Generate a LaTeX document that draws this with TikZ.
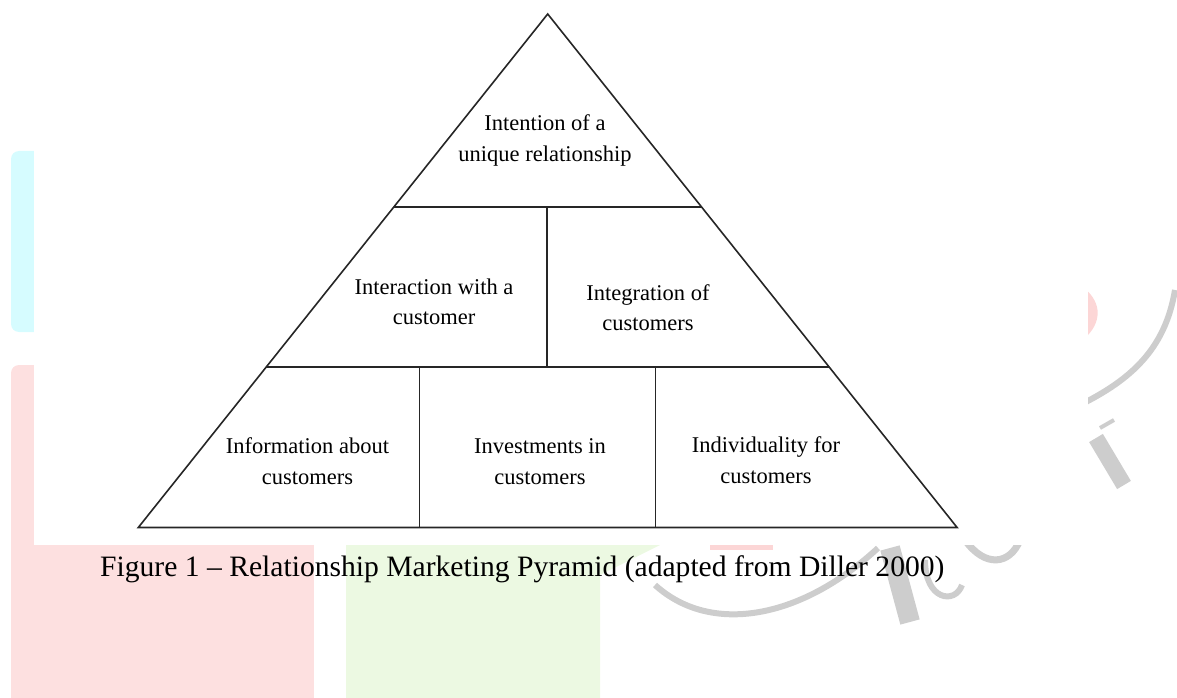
\documentclass[tikz,border=0pt]{standalone}
\usepackage{fontspec}
\setmainfont{Liberation Serif}
\usepackage{tikz}
\usetikzlibrary{calc}

\definecolor{wmcyan}{RGB}{214,252,255}
\definecolor{wmpink}{RGB}{253,224,224}
\definecolor{wmgreen}{RGB}{236,249,226}
\definecolor{wmgrey}{RGB}{205,205,205}
\definecolor{wmred}{RGB}{252,214,214}

\begin{document}
\begin{tikzpicture}[
      x=1bp, y=-1bp,
      tierline/.style={draw=black!85, line width=1.6bp},
      tier/.style={anchor=base, align=center, inner sep=0pt,
        font=\fontsize{22.5bp}{30.5bp}\selectfont},
      figcap/.style={anchor=base west, inner sep=0pt,
        font=\fontsize{29.6bp}{34bp}\selectfont}
      ]

      \path[use as bounding box] (0,0) rectangle (1177,698);

      % filigrane derriere la figure
      \fill[wmcyan, rounded corners=8bp] (11,151) rectangle (45,332);
      \fill[wmpink, rounded corners=8bp] (11,365) rectangle (45,560);
      \fill[wmpink] (11,545) rectangle (314,698);
      \fill[wmgreen] (346,545) -- (660,545) -- (600,575) -- (600,698) -- (346,698) -- cycle;
      \fill[wmred] (1080,285) .. controls (1102,300) and (1102,320) .. (1088,335) -- cycle;
      \fill[wmred] (710,545) rectangle (773,550);
      \draw[wmgrey, line width=6bp] (1175,290) .. controls (1165,350) and (1130,380) .. (1080,405);
      \draw[wmgrey, line width=16bp] (1096,438) -- (1124,485);
      \draw[wmgrey, line width=4bp] (1100,428) -- (1114,420);
      \draw[wmgrey, line width=6bp] (655,585) .. controls (710,635) and (800,620) .. (878,548);
      \draw[wmgrey, line width=20bp] (890,548) -- (910,622);
      \draw[wmgrey, line width=6bp] (925,560) .. controls (925,600) and (955,605) .. (962,585);
      \draw[wmgrey, line width=7bp] (965,540) .. controls (985,568) and (1010,565) .. (1020,540);
      \fill[white] (34,0) rectangle (1088,545);

      \coordinate (apex) at (547.7,14);
      \coordinate (bl) at (138.3,527.5);
      \coordinate (br) at (957.1,527.5);
      \draw[tierline, line join=miter] (apex) -- (bl) -- (br) -- cycle;

      \coordinate (t1l) at ($(apex)!0.3759!(bl)$);
      \coordinate (t1r) at ($(apex)!0.3759!(br)$);
      \coordinate (t2l) at ($(apex)!0.6874!(bl)$);
      \coordinate (t2r) at ($(apex)!0.6874!(br)$);
      \draw[tierline] (t1l) -- (t1r);
      \draw[tierline] (t2l) -- (t2r);

      \coordinate (d1) at (546.7,0);
      \coordinate (d2) at (419.3,0);
      \coordinate (d3) at (655.5,0);
      \draw[tierline] (d1 |- t1l) -- (d1 |- t2l);
      \draw[tierline] (d2 |- t2l) -- (d2 |- bl);
      \draw[tierline] (d3 |- t2l) -- (d3 |- bl);

      % base = ligne du bas
      \node[tier] (intent) at (545,161.5) {Intention of a\\unique relationship};
      \node[tier] (interact) at (434,324.8) {Interaction with a\\customer};
      \node[tier] (integr) at (648,330.5) {Integration of\\customers};
      \node[tier] (inform) at (307.5,484) {Information about\\customers};
      \node[tier] (invest) at (540,484) {Investments in\\customers};
      \node[tier] (indiv) at (766,483) {Individuality for\\customers};

      \node[figcap] (caption) at (100,576) {Figure 1 \textendash{} Relationship Marketing Pyramid (adapted from Diller 2000)};
    \end{tikzpicture}
\end{document}
